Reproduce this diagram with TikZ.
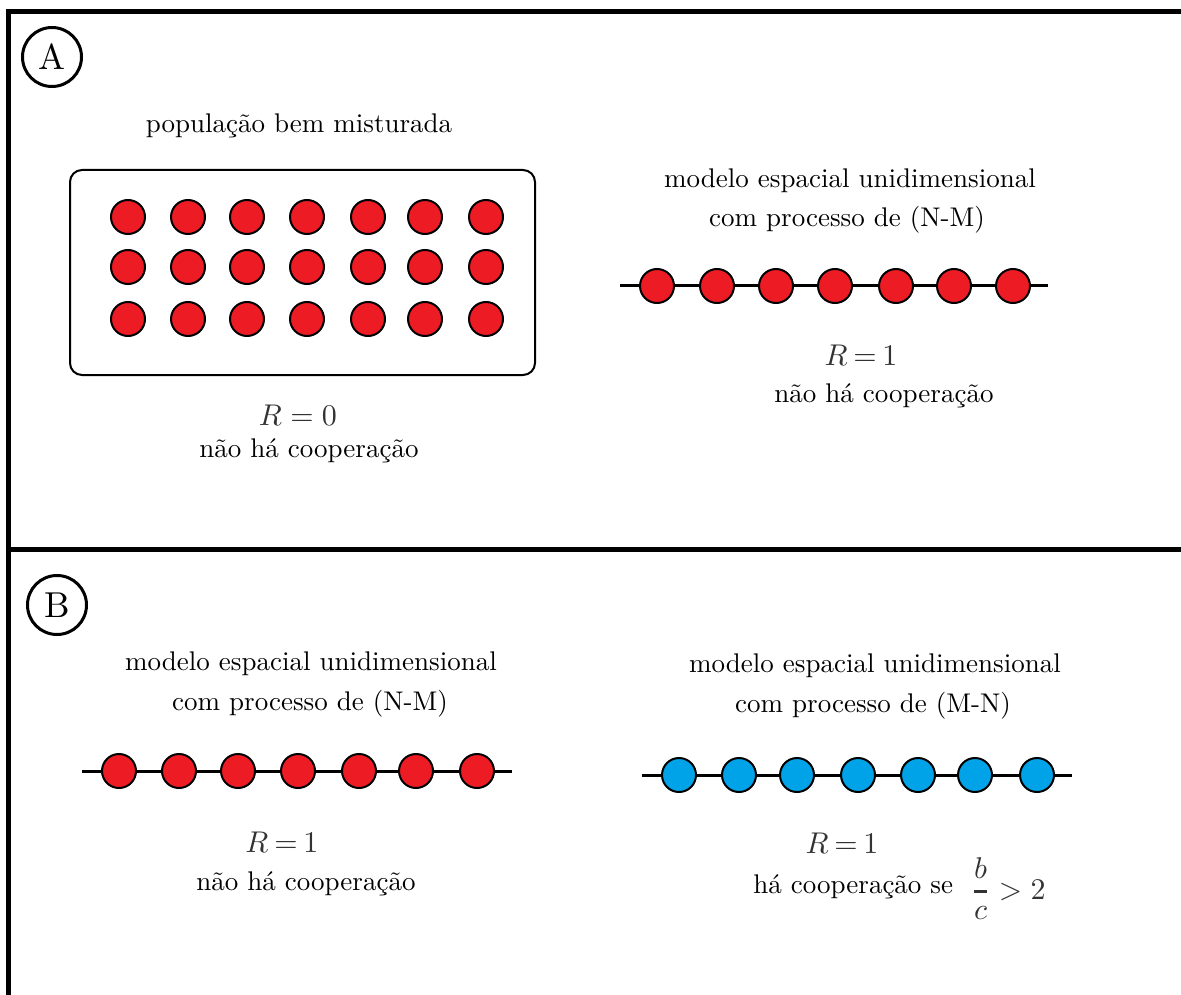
\documentclass[tikz,border=0pt]{standalone}
\usepackage{xcolor}
\usepackage{graphicx}
\definecolor{pred}{HTML}{ED1C24}
\definecolor{pblue}{HTML}{00A2E8}
\definecolor{mgray}{HTML}{333333}
\newcommand\Tx[1]{\scalebox{1.35}{#1}}
\newcommand\Mx[1]{\scalebox{1.5}{#1}}
\begin{document}
\begin{tikzpicture}[x=0.5pt,y=-0.5pt,
  txt/.style={font=\fontsize{10}{12}\selectfont, inner sep=0, anchor=base},
  mth/.style={font=\fontsize{10}{12}\selectfont, text=mgray, inner sep=0, anchor=base},
  dotr/.style={circle, draw=black, line width=1pt, fill=pred, minimum size=17pt, inner sep=0},
  dotb/.style={dotr, fill=pblue},
  link/.style={line width=1.5pt},
  frameline/.style={line width=2.75pt},
  tag/.style={circle, draw, line width=1.5pt, minimum size=29.5pt, inner sep=0, font=\fontsize{10}{12}\selectfont}]
\useasboundingbox (0,0) rectangle (1181,994);

% frame
\coordinate (fBL) at (8.5,1000);
\coordinate (fTL) at (8.5,11.5);
\coordinate (fTR) at (1190,11.5);
\draw[frameline, line join=miter] (fBL) -- (fTL) -- (fTR);
\coordinate (dL) at (10,549.5);
\coordinate (dR) at (1190,549.5);
\draw[frameline] (dL) -- (dR);

% tags
\node[tag] (tagA) at (52,57) {\scalebox{1.8}{A}};
\node[tag] (tagB) at (57,605) {\scalebox{1.8}{B}};

% ---- Panel A, left: well-mixed population
\node[txt] (popt) at (299,133) {\Tx{população bem misturada}};
\node[draw, rounded corners=6pt, line width=1pt, minimum width=232.5pt, minimum height=102.5pt, inner sep=0] (box) at (302.5,272.5) {};
\foreach \y [count=\r] in {217,267,319}{
  \foreach \x [count=\c] in {128,188,247,307,368,425,486}{
    \node[dotr] (g\r\c) at (\x,\y) {};
  }
}
\node[mth] (RA0) at (298,425) {\Mx{$R=0$}};
\node[txt] (nhA0) at (309,457) {\Tx{não há cooperação}};

% ---- Panel A, right: 1D chain (N-M)
\node[txt] (mA1) at (850,188) {\Tx{modelo espacial unidimensional}};
\node[txt] (pA1) at (847,227) {\Tx{com processo de (N-M)}};
\foreach \x [count=\i] in {657,717,776,835,896,954,1013}{
  \node[dotr] (ar\i) at (\x,286) {};
}
\coordinate (arL) at (620,286);
\coordinate (arR) at (1048,286);
\draw[link] (arL) -- (ar1);
\draw[link] (ar7) -- (arR);
\foreach \i in {1,...,6}{\pgfmathtruncatemacro\j{\i+1}\draw[link] (ar\i) -- (ar\j);}
\node[mth] (RA1) at (861,365) {\Mx{$R\mkern-1.5mu=\mkern-1.5mu1$}};
\node[txt] (nhA1) at (884,402) {\Tx{não há cooperação}};

% ---- Panel B, left: 1D chain (N-M)
\node[txt] (mB1) at (311,670) {\Tx{modelo espacial unidimensional}};
\node[txt] (pB1) at (310,710) {\Tx{com processo de (N-M)}};
\foreach \x [count=\i] in {119,179,238,298,359,416,477}{
  \node[dotr] (bl\i) at (\x,771) {};
}
\coordinate (blL) at (82,771);
\coordinate (blR) at (512,771);
\draw[link] (blL) -- (bl1);
\draw[link] (bl7) -- (blR);
\foreach \i in {1,...,6}{\pgfmathtruncatemacro\j{\i+1}\draw[link] (bl\i) -- (bl\j);}
\node[mth] (RB1) at (282,852) {\Mx{$R\mkern-1.5mu=\mkern-1.5mu1$}};
\node[txt] (nhB1) at (306,890) {\Tx{não há cooperação}};

% ---- Panel B, right: 1D chain (M-N)
\node[txt] (mB2) at (875,672) {\Tx{modelo espacial unidimensional}};
\node[txt] (pB2) at (873,712) {\Tx{com processo de (M-N)}};
\foreach \x [count=\i] in {679,739,797,858,918,975,1037}{
  \node[dotb] (br\i) at (\x,775) {};
}
\coordinate (brL) at (642,775);
\coordinate (brR) at (1072,775);
\draw[link] (brL) -- (br1);
\draw[link] (br7) -- (brR);
\foreach \i in {1,...,6}{\pgfmathtruncatemacro\j{\i+1}\draw[link] (br\i) -- (br\j);}
\node[mth] (RB2) at (842,853) {\Mx{$R\mkern-1.5mu=\mkern-1.5mu1$}};
\node[txt, anchor=base west] (hB2) at (753,893) {\Tx{há cooperação se}};
\node[mth, anchor=base west] (cond) at (970,899) {\Mx{$\displaystyle{b\above0.8pt c} > 2$}};
\end{tikzpicture}
\end{document}
